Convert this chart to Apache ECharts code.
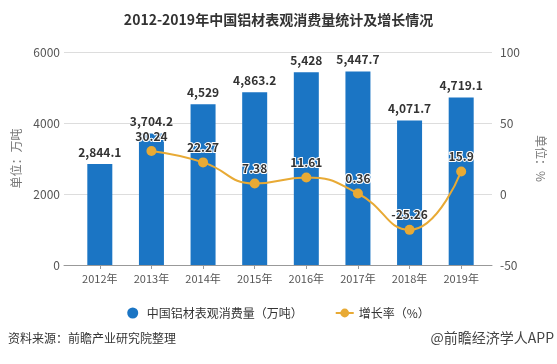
<!DOCTYPE html>
<html><head><meta charset="utf-8">
<script src="https://cdn.jsdelivr.net/npm/echarts@6/dist/echarts.min.js"></script>
<style>html,body{margin:0;padding:0;background:#fff}#c{width:557px;height:364px}</style>
</head><body><div id="c"></div>
<script>
var categories = ['2012年','2013年','2014年','2015年','2016年','2017年','2018年','2019年'];
var consumption = [2844.1, 3704.2, 4529, 4863.2, 5428, 5447.7, 4071.7, 4719.1];
var growth = [null, 30.24, 22.27, 7.38, 11.61, 0.36, -25.26, 15.9];
var leftTicks = [0, 6000, 2000];
var rightTicks = [-50, 100, 50];

var chart = echarts.init(document.getElementById('c'));
var font = '"Microsoft YaHei","Noto Sans CJK SC",sans-serif';
chart.setOption({
  animation: false,
  textStyle: {fontFamily: font},
  title: {text: '2012-2019年中国铝材表观消费量统计及增长情况', left: 'center', top: 8,
    textStyle: {fontSize: 14, fontWeight: 'bold', color: '#333', fontFamily: font}},
  legend: {top: 302, left: 'center', itemGap: 32, itemWidth: 18, itemHeight: 11,
    textStyle: {fontSize: 12, color: '#333'},
    data: [{name: '中国铝材表观消费量（万吨）', icon: 'circle'}, {name: '增长率（%）'}]},
  grid: [
    {left: 74, right: 70, top: 52, bottom: 99},
    {left: 64, right: 65, top: 52, bottom: 99}
  ],
  xAxis: [
    {type: 'category', data: categories, gridIndex: 0,
     axisLine: {show: false}, axisTick: {show: true, alignWithLabel: true, length: 4, lineStyle: {color: '#999'}},
     axisLabel: {color: '#555', fontSize: 11, margin: 8}},
    {type: 'value', gridIndex: 1, min: 0, max: 1, show: true,
     axisLine: {show: true, onZero: false, lineStyle: {color: '#999'}}, axisTick: {show: false},
     axisLabel: {show: false}, splitLine: {show: false}}
  ],
  yAxis: [
    {type: 'value', gridIndex: 0, min: leftTicks[0], max: leftTicks[1], interval: leftTicks[2],
     name: '单位：万吨', nameLocation: 'middle', nameGap: 52, nameRotate: 90,
     nameTextStyle: {color: '#777', fontSize: 12},
     axisLine: {show: false}, axisTick: {show: false},
     axisLabel: {color: '#555', fontSize: 12, margin: 14, formatter: function(v){return String(v);}},
     splitLine: {show: false}},
    {type: 'value', gridIndex: 0, min: rightTicks[0], max: rightTicks[1], interval: rightTicks[2],
     name: '单位：%', nameLocation: 'middle', nameGap: 48, nameRotate: -90,
     nameTextStyle: {color: '#777', fontSize: 12},
     axisLine: {show: false}, axisTick: {show: false},
     axisLabel: {color: '#555', fontSize: 12, margin: 13},
     splitLine: {show: false}},
    {type: 'value', gridIndex: 1, min: leftTicks[0], max: leftTicks[1], interval: leftTicks[2],
     axisLine: {show: false}, axisTick: {show: false}, axisLabel: {show: false},
     splitLine: {lineStyle: {color: '#ddd'}}}
  ],
  series: [
    {name: '中国铝材表观消费量（万吨）', type: 'bar', data: consumption, barWidth: 25,
     xAxisIndex: 0, yAxisIndex: 0,
     itemStyle: {color: '#1b75c4'},
     label: {show: true, position: 'top', distance: 6, color: '#333', fontWeight: 'bold', fontSize: 12,
       formatter: function(p){ return p.value.toLocaleString('en-US', {maximumFractionDigits: 1}); }}},
    {name: '增长率（%）', type: 'line', xAxisIndex: 0, yAxisIndex: 1, data: growth, smooth: true,
     symbol: 'circle', symbolSize: 10,
     itemStyle: {color: '#e8aa35'}, lineStyle: {color: '#e8aa35', width: 2},
     label: {show: true, position: 'top', distance: 4, color: '#333', fontWeight: 'bold', fontSize: 12,
       textBorderColor: '#fff', textBorderWidth: 2}}
  ],
  graphic: [
    {type: 'text', left: 8, top: 332, style: {text: '资料来源：前瞻产业研究院整理', fill: '#333', font: '12px ' + font}},
    {type: 'text', right: 3, top: 331, style: {text: '@前瞻经济学人APP', fill: '#444', font: '14px ' + font}}
  ]
});
</script></body></html>
